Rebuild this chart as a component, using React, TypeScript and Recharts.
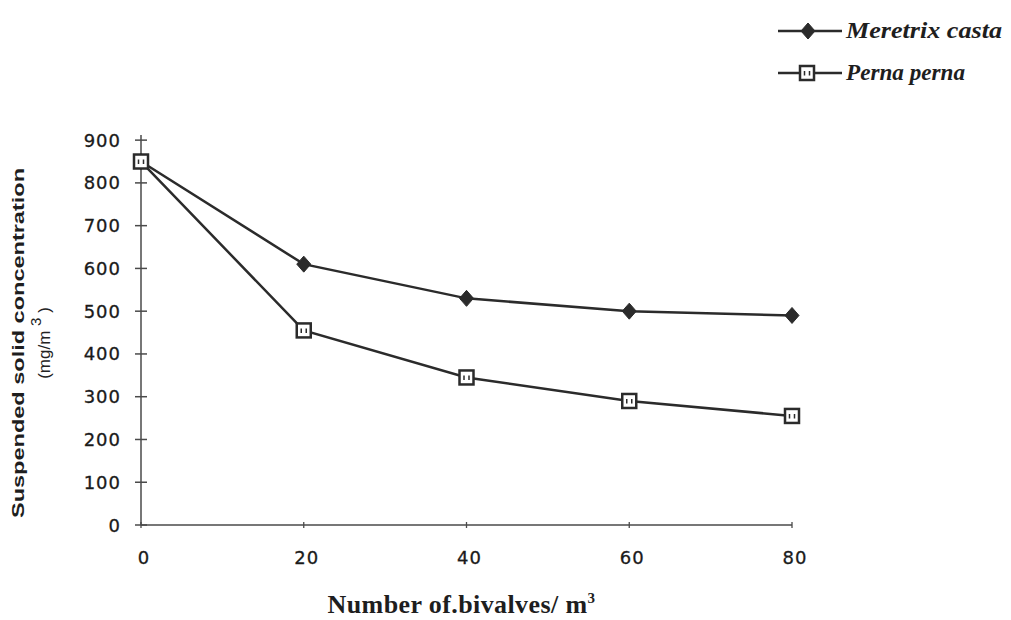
import React from "react";
import { LineChart, Line, XAxis, YAxis, Label } from "recharts";

const bivalves = [0, 20, 40, 60, 80];
const meretrixCasta = [850, 610, 530, 500, 490];
const pernaPerna = [850, 455, 345, 290, 255];
const yTicks = [0, 100, 200, 300, 400, 500, 600, 700, 800, 900];
const xTicks = [0, 20, 40, 60, 80];

const data = bivalves.map((b, i) => ({ x: b, mc: meretrixCasta[i], pp: pernaPerna[i] }));

const INK = "#2b2b2b";
const AXIS = "#4a4a4a";
const TICK_FONT = "'DejaVu Sans', 'Liberation Sans', Arial, sans-serif";
const SERIF = "'Liberation Serif', 'Times New Roman', serif";
const SANS = "'Liberation Sans', Arial, sans-serif";

const YTick = (props: any) => {
  const { x, y, payload } = props;
  return (
    <g>
      <line x1={x - 6} x2={x + 6} y1={y} y2={y} stroke={AXIS} strokeWidth={1.5} />
      <text x={x - 20} y={y + 6.5} textAnchor="end" fontFamily={TICK_FONT} fontSize={18} fill="#1a1a1a" letterSpacing={1} stroke="#1a1a1a" strokeWidth={0.3}>
        {payload.value}
      </text>
    </g>
  );
};

const XTick = (props: any) => {
  const { x, y, payload } = props;
  return (
    <g>
      <line x1={x} x2={x} y1={y - 3} y2={y + 3} stroke={AXIS} strokeWidth={1.3} />
      <text x={x + 3} y={y + 39} textAnchor="middle" fontFamily={TICK_FONT} fontSize={18} fill="#1a1a1a" letterSpacing={1} stroke="#1a1a1a" strokeWidth={0.3}>
        {payload.value}
      </text>
    </g>
  );
};

const Diamond = (props: any) => {
  const { cx, cy } = props;
  if (cx == null || cy == null) return null;
  return <path d={`M${cx},${cy - 8} L${cx + 7},${cy} L${cx},${cy + 8} L${cx - 7},${cy} Z`} fill={INK} stroke={INK} strokeWidth={1} />;
};

const Square = (props: any) => {
  const { cx, cy } = props;
  if (cx == null || cy == null) return null;
  return (
    <g>
      <rect x={cx - 7} y={cy - 7} width={14} height={14} fill="#fff" stroke={INK} strokeWidth={2.5} />
      <path d={`M${cx - 2.5},${cy - 2} L${cx - 2.5},${cy + 2.5} M${cx + 2.5},${cy - 2} L${cx + 2.5},${cy + 2.5}`} stroke={INK} strokeWidth={1.5} />
    </g>
  );
};

const YTitle = (props: any) => {
  const vb = props.viewBox || { x: 81, y: 135, width: 60, height: 390 };
  const cy = vb.y + vb.height / 2 + 13;
  const x1 = vb.x - 57;
  const x2 = vb.x - 31;
  return (
    <g>
      <text
        transform={`translate(${x1},${cy}) rotate(-90)`}
        textAnchor="middle"
        fontFamily={SANS}
        fontWeight="bold"
        fontSize={16}
        fill="#1e1e1e"
        textLength={350}
        lengthAdjust="spacingAndGlyphs"
      >
        Suspended solid concentration
      </text>
      <text
        transform={`translate(${x2},${cy}) rotate(-90)`}
        textAnchor="middle"
        fontFamily={SANS}
        fontSize={17}
        fill="#222"
      >
        (mg/m <tspan dy={-9} fontSize={15}>3</tspan>
        <tspan dy={9}> )</tspan>
      </text>
    </g>
  );
};

const XTitle = (props: any) => {
  const vb = props.viewBox || { x: 141, y: 525, width: 651, height: 30 };
  const cx = vb.x + vb.width / 2 - 5;
  return (
    <text x={cx} y={vb.y + 88} textAnchor="middle" fontFamily={SERIF} fontWeight="bold" fontSize={26} fill="#1e1e1e" letterSpacing={0.4}>
      Number of.bivalves/ m<tspan dy={-10} fontSize={15}>3</tspan>
    </text>
  );
};

const LegendOverlay = () => (
  <svg width={240} height={95} style={{ position: "absolute", left: 771, top: 0 }}>
    <line x1={7} x2={71} y1={31} y2={31} stroke={INK} strokeWidth={2.5} />
    <Diamond cx={37} cy={31} />
    <text x={75} y={38} fontFamily={SERIF} fontStyle="italic" fontWeight="bold" fontSize={24} fill="#1e1e1e" textLength={156} lengthAdjust="spacingAndGlyphs">
      Meretrix casta
    </text>
    <line x1={7} x2={71} y1={73} y2={73} stroke={INK} strokeWidth={2.5} />
    <Square cx={36} cy={73} />
    <text x={75} y={80} fontFamily={SERIF} fontStyle="italic" fontWeight="bold" fontSize={24} fill="#1e1e1e" textLength={119} lengthAdjust="spacingAndGlyphs">
      Perna perna
    </text>
  </svg>
);

export default function App() {
  return (
    <div style={{ position: "absolute", left: 0, top: 0, width: 1011, height: 620, background: "#fff" }}>
      <LineChart width={1011} height={620} data={data} margin={{ top: 135, right: 219, bottom: 65, left: 81 }}>
        <XAxis
          dataKey="x"
          type="number"
          domain={[0, 80]}
          ticks={xTicks}
          tickSize={0}
          tickMargin={0}
          tickLine={false}
          tick={<XTick />}
          height={30}
          stroke={AXIS}
          strokeWidth={1.5}
          interval={0}
        >
          <Label content={<XTitle />} />
        </XAxis>
        <YAxis
          type="number"
          domain={[0, 912]}
          ticks={yTicks}
          tickSize={0}
          tickMargin={0}
          tickLine={false}
          tick={<YTick />}
          width={60}
          stroke={AXIS}
          strokeWidth={1.5}
          interval={0}
        >
          <Label content={<YTitle />} />
        </YAxis>
        <Line dataKey="mc" stroke={INK} strokeWidth={2.5} dot={<Diamond />} activeDot={false} isAnimationActive={false} />
        <Line dataKey="pp" stroke={INK} strokeWidth={2.5} dot={<Square />} activeDot={false} isAnimationActive={false} />
      </LineChart>
      <LegendOverlay />
    </div>
  );
}
